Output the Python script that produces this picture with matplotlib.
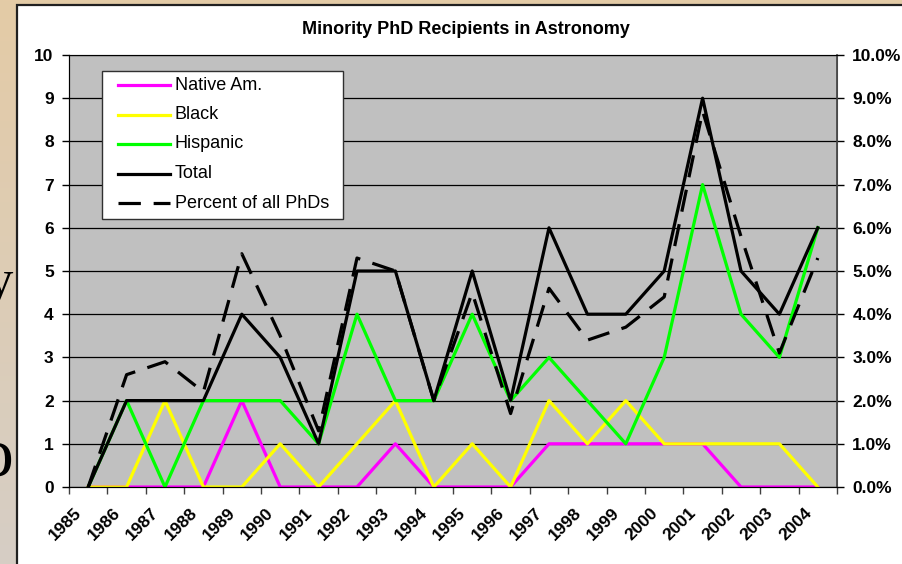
import numpy as np
import matplotlib
matplotlib.use('Agg')
import matplotlib.pyplot as plt
from matplotlib.patches import Rectangle
from matplotlib.lines import Line2D
from matplotlib.transforms import ScaledTranslation
from matplotlib.ticker import FixedLocator, FuncFormatter

plt.rcParams['font.family'] = ['Liberation Sans', 'DejaVu Sans']

# data
years = ['1985', '1986', '1987', '1988', '1989', '1990', '1991', '1992', '1993', '1994',
         '1995', '1996', '1997', '1998', '1999', '2000', '2001', '2002', '2003', '2004']
native = [0, 0, 0, 0, 2, 0, 0, 0, 1, 0, 0, 0, 1, 1, 1, 1, 1, 0, 0, 0]
black = [0, 0, 2, 0, 0, 1, 0, 1, 2, 0, 1, 0, 2, 1, 2, 1, 1, 1, 1, 0]
hispanic = [0, 2, 0, 2, 2, 2, 1, 4, 2, 2, 4, 2, 3, 2, 1, 3, 7, 4, 3, 6]
total = [0, 2, 2, 2, 4, 3, 1, 5, 5, 2, 5, 2, 6, 4, 4, 5, 9, 5, 4, 6]
pct = [0.0, 2.6, 2.9, 2.2, 5.4, 3.5, 1.3, 5.3, 5.0, 2.0,
       4.5, 1.7, 4.6, 3.4, 3.7, 4.4, 8.7, 5.8, 3.1, 5.3]

W, H = 903, 564
fig = plt.figure(figsize=(W / 100, H / 100), dpi=100)

# slide background (tan gradient)
bg = fig.add_axes([0, 0, 1, 1], zorder=-10)
grad = np.linspace(0, 1, 256).reshape(-1, 1)
top_c = np.array([228, 203, 166]) / 255
bot_c = np.array([214, 206, 197]) / 255
img = top_c[None, None, :] * (1 - grad[:, :, None]) + bot_c[None, None, :] * grad[:, :, None]
bg.imshow(img, aspect='auto', extent=[0, 1, 0, 1])
bg.set_axis_off()

# bits of slide text hidden behind the chart
fig.text(-14 / W, 1 - 296 / H, 'y', fontsize=38, family='Liberation Serif', zorder=-5)
fig.text(-22 / W, 1 - 476 / H, 'o', fontsize=50, family='Liberation Serif', zorder=-5)

# white chart area
fig.patches.append(Rectangle((17 / W, -0.1), 1.2, 1.1 - 5 / H, transform=fig.transFigure,
                             facecolor='white', edgecolor='#202020', lw=1.6, zorder=-2))

x0, x1, y0, y1 = 69, 837, 55, 487
ax = fig.add_axes([x0 / W, 1 - y1 / H, (x1 - x0) / W, (y1 - y0) / H])
ax.set_facecolor('#C0C0C0')
x = np.arange(len(years)) + 0.5

lines = []
lines += ax.plot(x, native, color='#FF00FF', lw=2.3, label='Native Am.')
lines += ax.plot(x, black, color='#FFFF00', lw=2.3, label='Black')
lines += ax.plot(x, hispanic, color='#00FF00', lw=2.3, label='Hispanic')
lines += ax.plot(x, total, color='black', lw=2.3, label='Total')

ax.set_xlim(0, len(years))
ax.set_ylim(0, 10)
ax.set_yticks(range(0, 11))
ax.yaxis.grid(True, color='black', lw=0.9)
ax.set_axisbelow(True)
ax.tick_params(axis='y', length=5, width=1, labelsize=12.5, pad=6)
for t in ax.get_yticklabels():
    t.set_fontweight('bold')

# category axis: ticks between categories, labels at centres
ax.xaxis.set_major_locator(FixedLocator(np.arange(0, len(years) + 1)))
ax.xaxis.set_major_formatter(FuncFormatter(lambda v, p: ''))
ax.xaxis.set_minor_locator(FixedLocator(x))
ax.xaxis.set_minor_formatter(FuncFormatter(lambda v, p: years[int(v)]))
ax.tick_params(axis='x', which='major', length=5, width=1, color='#404040')
ax.tick_params(axis='x', which='minor', length=0, pad=13, labelsize=12.5)
shift = ScaledTranslation(-14 / 100, 0, fig.dpi_scale_trans)
for t in ax.xaxis.get_minorticklabels():
    t.set_rotation(45)
    t.set_ha('right')
    t.set_va('top')
    t.set_rotation_mode('anchor')
    t.set_fontweight('bold')
    t.set_transform(t.get_transform() + shift)

for side in ['top', 'right']:
    ax.spines[side].set_color('#808080')
ax.spines['left'].set_color('#202020')
ax.spines['bottom'].set_color('#202020')

ax2 = ax.twinx()
lines += ax2.plot(x, pct, color='black', lw=2.3, dashes=(7, 4), label='Percent of all PhDs')
ax2.set_ylim(0, 10)
ax2.set_yticks(range(0, 11))
ax2.yaxis.set_major_formatter(FuncFormatter(lambda v, p: '%.1f%%' % v))
ax2.tick_params(axis='y', length=5, width=1, labelsize=12.5, pad=6)
for t in ax2.get_yticklabels():
    t.set_fontweight('bold')
ax2.spines['right'].set_color('#404040')
ax2.spines['right'].set_linewidth(1.2)

# Excel-style legend box (wider side padding than plt.legend allows)
fig.patches.append(Rectangle((102 / W, 1 - 219 / H), 241 / W, 148 / H, transform=fig.transFigure,
                             facecolor='white', edgecolor='#303030', lw=1, zorder=5))
for i, ln in enumerate(lines):
    yy = 1 - (85 + 29.5 * i) / H
    h = Line2D([118 / W, 170 / W], [yy, yy], transform=fig.transFigure, color=ln.get_color(),
               lw=ln.get_linewidth(), linestyle=ln.get_linestyle(), zorder=6)
    if i == 4:
        h.set_dashes((7, 4))
    fig.lines.append(h)
    fig.text(175 / W, yy, ln.get_label(), fontsize=13, va='center', ha='left', zorder=6)

fig.text(466 / W, 1 - 30 / H, 'Minority PhD Recipients in Astronomy', ha='center', va='center',
         fontsize=13, fontweight='bold')

fig.savefig('out.png', dpi=100)
